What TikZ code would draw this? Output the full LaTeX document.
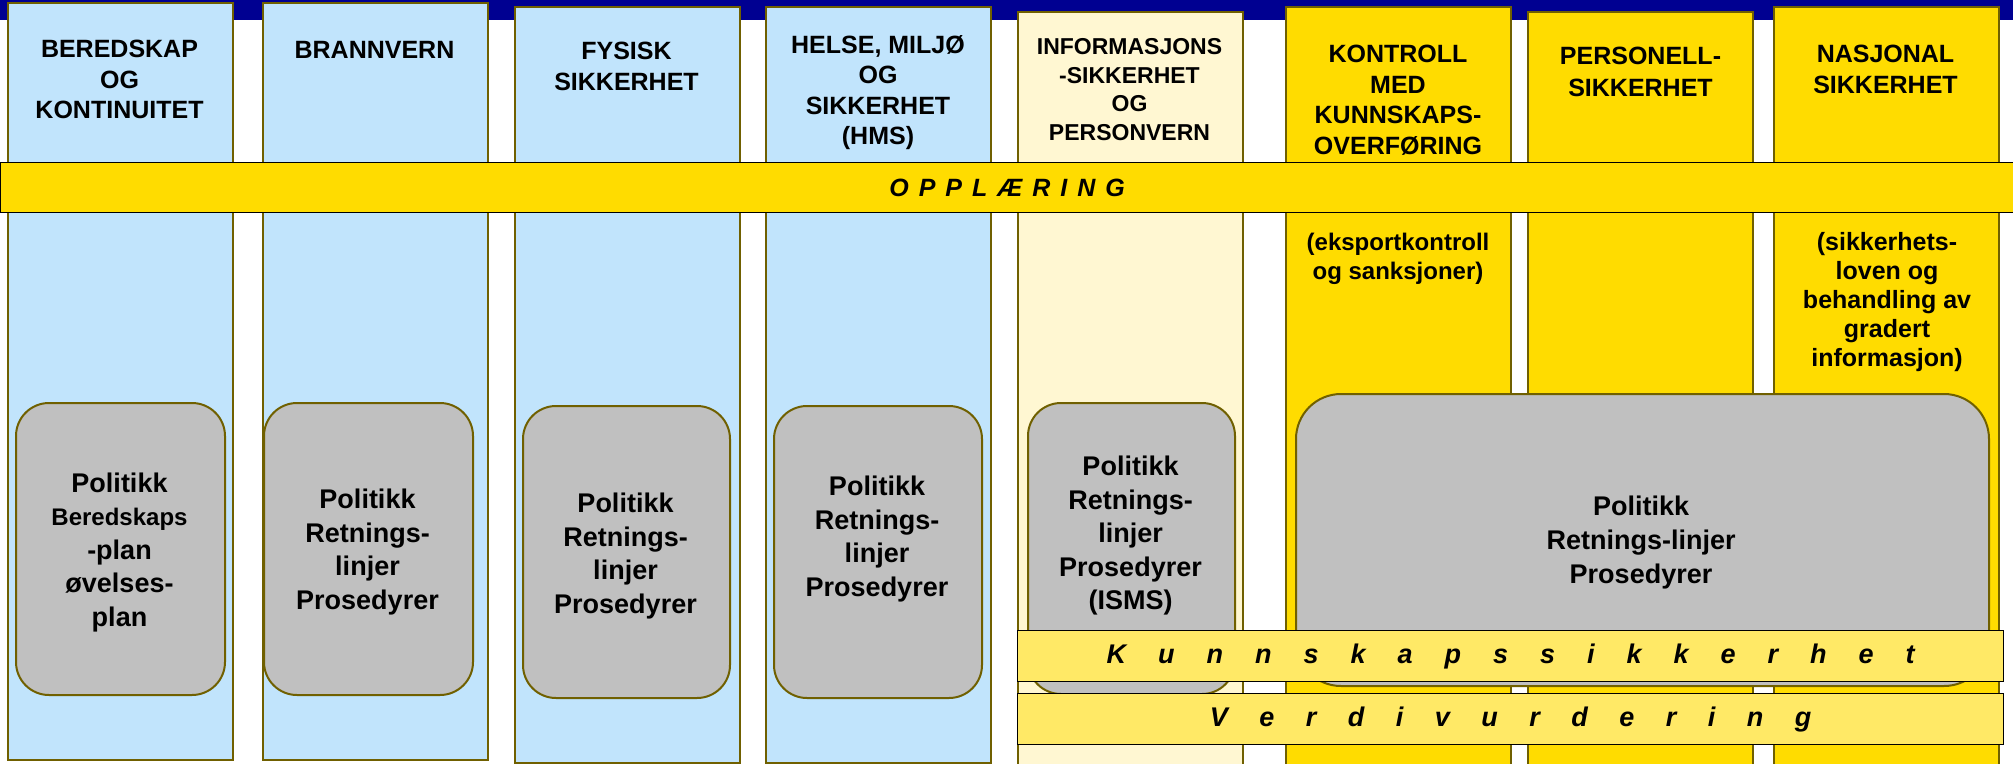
\documentclass[tikz,border=0pt]{standalone}
\usepackage{fontspec}
\setmainfont{Liberation Sans}
\usepackage{tikz}
\definecolor{topnavy}{RGB}{0,0,145}
\definecolor{skyblue}{RGB}{193,228,252}
\definecolor{paleyellow}{RGB}{255,247,210}
\definecolor{gold}{RGB}{255,220,0}
\definecolor{bandyellow}{RGB}{255,233,102}
\definecolor{boxgray}{RGB}{192,192,192}
\definecolor{olivebrd}{RGB}{112,96,0}
\newcommand{\hfont}[2]{\fontsize{#1}{#2}\selectfont}
\newcommand{\spread}[2]{\foreach \letr [count=\idx] in {#2}{\ifnum\idx>1 \hspace{#1}\fi\letr}}

\begin{document}
\begin{tikzpicture}[x=1pt,y=-1pt,
    colbox/.style={draw=olivebrd,line width=2pt,anchor=north west,inner sep=0pt,minimum width=225pt},
    headtext/.style={font=\bfseries\hfont{25}{30.5},align=center,anchor=north,inner sep=0pt},
    polbox/.style={draw=olivebrd,line width=2pt,fill=boxgray,rounded corners=33pt,anchor=north west,inner sep=0pt},
    poltext/.style={font=\bfseries\hfont{27}{33.5},align=center,anchor=north,inner sep=0pt},
    band/.style={draw=black,line width=1.2pt,anchor=north west,inner sep=0pt,font=\bfseries\itshape\hfont{27}{30}}]
    \useasboundingbox (0,0) rectangle (2013,763);
    \fill[topnavy] (0,0) rectangle (2013,20);

    % columns
    \node[colbox,fill=skyblue,minimum height=757pt] (BER) at (7,2) {};
    \node[colbox,fill=skyblue,minimum height=757pt] (BRA) at (262,2) {};
    \node[colbox,fill=skyblue,minimum height=756pt] (FYS) at (514,6) {};
    \node[colbox,fill=skyblue,minimum height=756pt] (HMS) at (765,6) {};
    \node[colbox,fill=paleyellow,minimum height=770pt] (INF) at (1017,11) {};
    \node[colbox,fill=gold,minimum height=770pt] (KON) at (1285,6) {};
    \node[colbox,fill=gold,minimum height=770pt] (PER) at (1527,11) {};
    \node[colbox,fill=gold,minimum height=770pt] (NAS) at (1773,6) {};

    \node[headtext] (tBER) at (119.5,40) {BEREDSKAP\\OG\\KONTINUITET};
    \node[headtext] (tBRA) at (374.5,41) {BRANNVERN};
    \node[headtext] (tFYS) at (626.5,42) {FYSISK\\SIKKERHET};
    \node[headtext] (tHMS) at (878,35) {HELSE, MILJØ\\OG\\SIKKERHET\\(HMS)};
    \node[headtext,font=\bfseries\hfont{23}{28.5}] (tINF) at (1129.5,38.5)
         {INFORMASJONS\\-SIKKERHET\\OG\\PERSONVERN};
    \node[headtext] (tKON) at (1398,45) {KONTROLL\\MED\\KUNNSKAPS-\\OVERFØRING};
    \node[headtext,font=\bfseries\hfont{25}{32}] (tPER) at (1640.5,47) {PERSONELL-\\SIKKERHET};
    \node[headtext] (tNAS) at (1885.5,45) {NASJONAL\\SIKKERHET};

    \node[headtext,font=\bfseries\hfont{24}{29}] (sKON) at (1398,232.5)
         {(eksportkontroll\\og sanksjoner)};
    \node[headtext,font=\bfseries\hfont{25}{29}] (sNAS) at (1887,232)
         {(sikkerhets-\\loven og\\behandling av\\gradert\\informasjon)};

    % training band
    \node[band,fill=gold,minimum width=2013pt,minimum height=50pt,
          font=\bfseries\itshape\hfont{25}{30}] (OPP) at (0,162)
         {\spread{10pt}{O,P,P,L,Æ,R,I,N,G}};

    % policy boxes
    \node[polbox,minimum width=209pt,minimum height=292pt] (pBER) at (15,402) {};
    \node[polbox,minimum width=209pt,minimum height=292pt] (pBRA) at (263,402) {};
    \node[polbox,minimum width=207pt,minimum height=292pt] (pFYS) at (522,405) {};
    \node[polbox,minimum width=208pt,minimum height=292pt] (pHMS) at (773,405) {};
    \node[polbox,minimum width=207pt,minimum height=291pt] (pINF) at (1027,402) {};
    \node[polbox,minimum width=693pt,minimum height=292pt,rounded corners=45pt] (pALL) at (1295,393) {};

    \node[poltext] (xBER) at (119.5,472.5)
         {Politikk\\{\hfont{24}{33.5}Beredskaps}\\-plan\\øvelses-\\plan};
    \node[poltext] (xBRA) at (367.5,489) {Politikk\\Retnings-\\linjer\\Prosedyrer};
    \node[poltext] (xFYS) at (625.5,493) {Politikk\\Retnings-\\linjer\\Prosedyrer};
    \node[poltext] (xHMS) at (877,476) {Politikk\\Retnings-\\linjer\\Prosedyrer};
    \node[poltext] (xINF) at (1130.5,456) {Politikk\\Retnings-\\linjer\\Prosedyrer\\(ISMS)};
    \node[poltext,font=\bfseries\hfont{27}{34}] (xALL) at (1641,496)
         {Politikk\\Retnings-linjer\\Prosedyrer};

    % lower bands
    \node[band,fill=bandyellow,minimum width=986pt,minimum height=51pt] (KUN) at (1017,630)
         {\spread{32pt}{K,u,n,n,s,k,a,p,s,s,i,k,k,e,r,h,e,t}};
    \node[band,fill=bandyellow,minimum width=986pt,minimum height=51pt] (VER) at (1017,693)
         {\spread{31.5pt}{V,e,r,d,i,v,u,r,d,e,r,i,n,g}};
\end{tikzpicture}
\end{document}
